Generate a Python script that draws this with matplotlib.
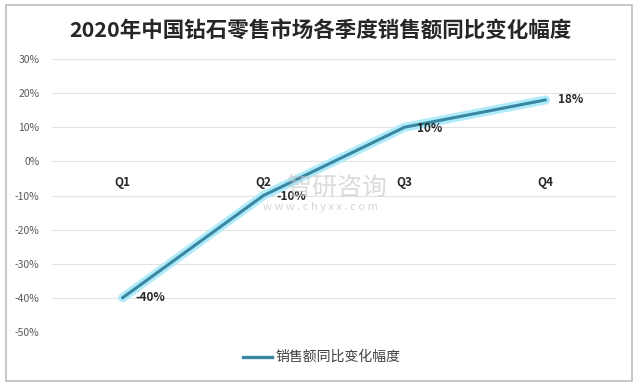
import matplotlib.pyplot as plt
from matplotlib.patches import Rectangle
from matplotlib.lines import Line2D
from matplotlib.ticker import FuncFormatter

plt.rcParams['font.family'] = ['Noto Sans CJK SC', 'DejaVu Sans']

quarters = ['Q1', 'Q2', 'Q3', 'Q4']
yoy = [-0.40, -0.10, 0.10, 0.18]
value_labels = ['-40%', '-10%', '10%', '18%']
series_name = '销售额同比变化幅度'
title = '2020年中国钻石零售市场各季度销售额同比变化幅度'

fig = plt.figure(figsize=(6.4, 3.89), dpi=100)
fig.patch.set_facecolor('white')

# outer frame
fig.add_artist(Rectangle((6/640, 1-381/389), 626/640, 376/389, transform=fig.transFigure,
                         fill=False, ec='#bfbfbf', lw=1.2))

ax = fig.add_axes([52/640, 1-332/389, 564/640, 273/389])
x = list(range(len(quarters)))

# glow + core line
ax.plot(x, yoy, color='#b0ebfa', lw=6.5, solid_capstyle='round', zorder=3)
ax.plot(x, yoy, color='#3a87a3', lw=2.2, solid_capstyle='round', zorder=4)

ax.set_xlim(-0.5, 3.5)
ax.set_ylim(-0.5, 0.3)
ax.set_yticks([i/10 for i in range(-5, 4)])
ax.yaxis.set_major_formatter(FuncFormatter(lambda v, p: f'{v*100:.0f}%'.replace('\u2212', '-')))
ax.tick_params(axis='y', length=0, labelsize=7.5, labelcolor='#595959', pad=9)
ax.set_xticks([])
ax.grid(axis='y', color='#e3e3e3', lw=0.8)
for s in ax.spines.values():
    s.set_visible(False)
ax.set_axisbelow(True)

# category labels below the zero line
for xi, q in zip(x, quarters):
    ax.text(xi, -0.062, q, ha='center', va='center', fontsize=8.5, fontweight='bold', color='#262626')

# data labels
offsets = [(0.09, 0.0), (0.09, -0.003), (0.09, -0.003), (0.09, 0.0)]
for xi, yi, lab, (dx, dy) in zip(x, yoy, value_labels, offsets):
    ax.text(xi + dx, yi + dy, lab, ha='left', va='center', fontsize=8.5, fontweight='bold', color='#262626', zorder=6)

# watermark
fig.text(337/640, 1-188/389, '智研咨询', ha='center', va='center', fontsize=18, color='#c4c4c4', alpha=0.6)
fig.text(320/640, 1-207/389, 'w w w . c h y x x . c o m', ha='center', va='center', fontsize=8, color='#b8b8b8', alpha=0.6)

fig.text(0.5, 1-31/389, title, ha='center', va='center', fontsize=15.5, fontweight='bold', color='#262626')

# legend
fig.add_artist(Line2D([243/640, 272/640], [1-357/389, 1-357/389], transform=fig.transFigure,
                      color='#3a87a3', lw=2.4))
fig.text(275/640, 1-357/389, series_name, ha='left', va='center', fontsize=10, color='#404040')

fig.savefig('out.png', dpi=100, facecolor='white')
